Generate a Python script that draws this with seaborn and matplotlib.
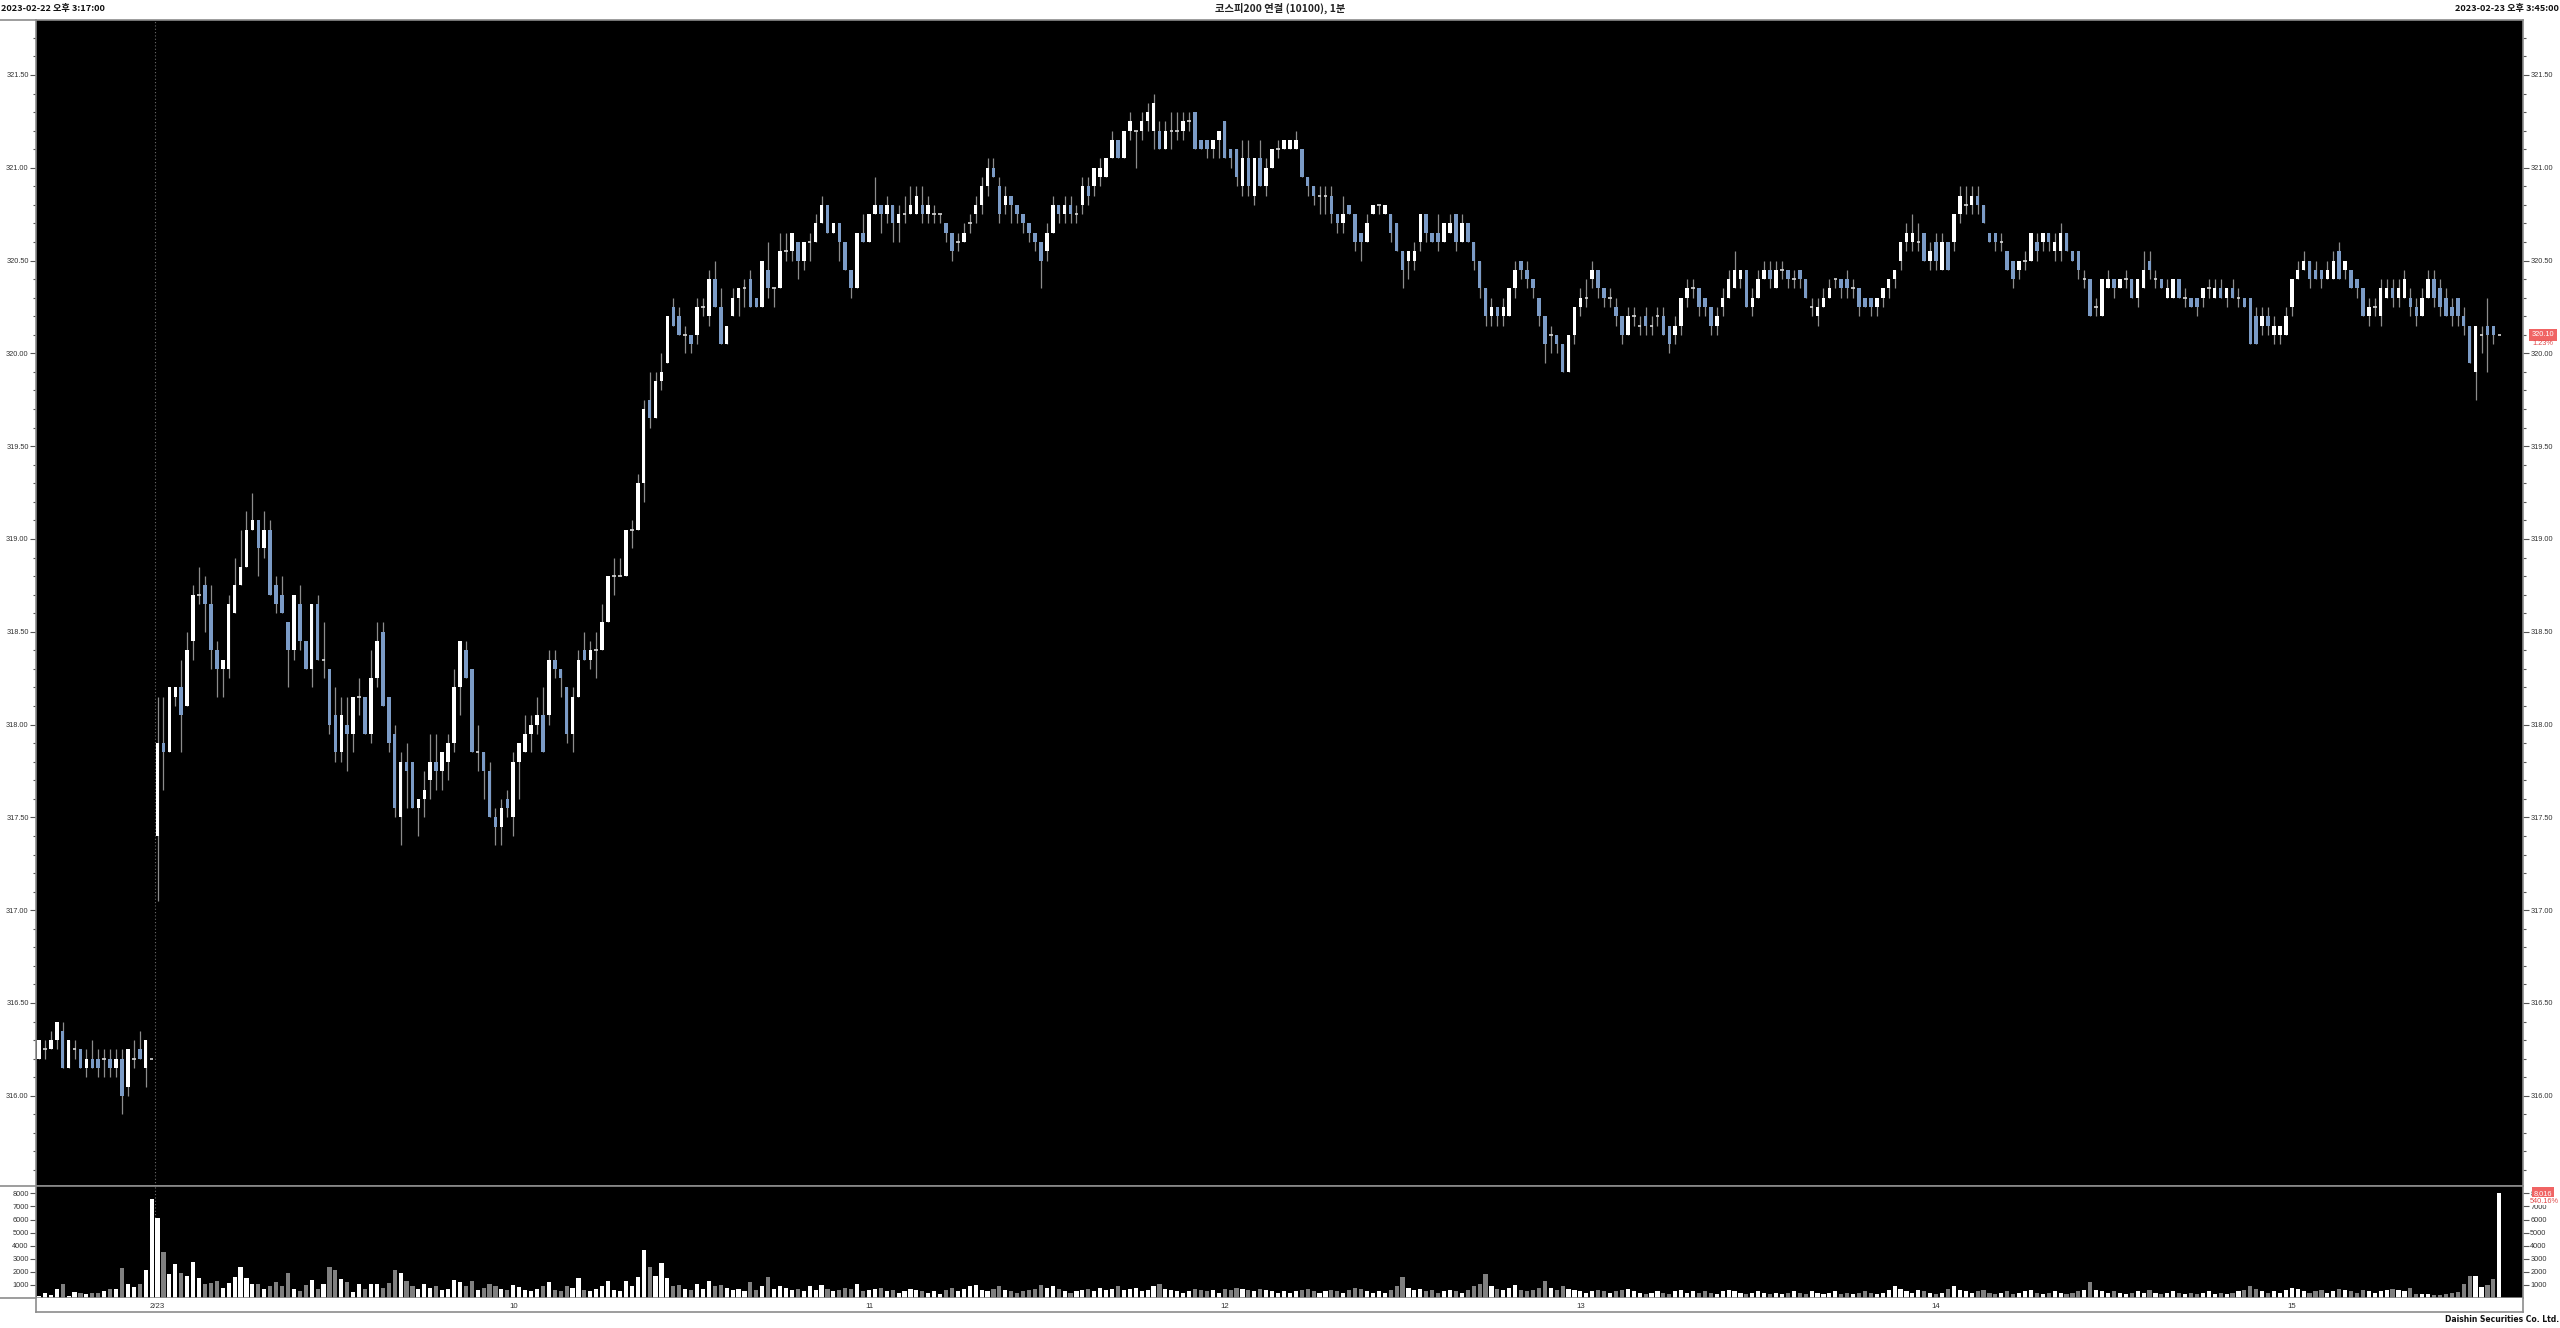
import numpy as np
import pandas as pd
import matplotlib
matplotlib.use("Agg")
import matplotlib.pyplot as plt
import matplotlib.transforms as mtransforms
from matplotlib.lines import Line2D
from matplotlib.ticker import MultipleLocator, FormatStrFormatter
import seaborn as sns

# KOSPI200 continuous futures (10100), 1-minute bars:
# tail of 2023-02-22 (20 bars) + session of 2023-02-23 (396 bars)
session_bars = [20, 396]
hour_labels = ["2/23", "10", "11", "12", "13", "14", "15"]

opens = [
    316.20, 316.25, 316.25, 316.30, 316.35, 316.15, 316.25, 316.25, 316.15, 316.20,
    316.20, 316.20, 316.20, 316.15, 316.20, 316.05, 316.20, 316.25, 316.15, 316.20,
    317.40, 317.90, 317.85, 318.15, 318.20, 318.10, 318.45, 318.70, 318.75, 318.65,
    318.40, 318.30, 318.30, 318.60, 318.75, 318.85, 319.05, 319.10, 318.95, 319.05,
    318.75, 318.70, 318.55, 318.40, 318.65, 318.45, 318.30, 318.65, 318.35, 318.30,
    318.05, 317.85, 318.00, 317.95, 318.15, 318.15, 317.95, 318.25, 318.50, 318.15,
    317.95, 317.50, 317.80, 317.80, 317.55, 317.60, 317.70, 317.80, 317.75, 317.80,
    317.90, 318.20, 318.40, 318.30, 317.85, 317.85, 317.75, 317.50, 317.45, 317.60,
    317.50, 317.80, 317.85, 317.95, 318.00, 318.05, 318.05, 318.35, 318.30, 318.20,
    317.95, 318.15, 318.40, 318.35, 318.40, 318.40, 318.55, 318.80, 318.80, 318.80,
    319.05, 319.05, 319.30, 319.75, 319.65, 319.85, 319.95, 320.25, 320.20, 320.10,
    320.10, 320.10, 320.25, 320.20, 320.40, 320.25, 320.05, 320.20, 320.30, 320.35,
    320.40, 320.30, 320.25, 320.45, 320.35, 320.35, 320.55, 320.55, 320.60, 320.50,
    320.60, 320.60, 320.70, 320.80, 320.65, 320.70, 320.60, 320.45, 320.35, 320.65,
    320.60, 320.75, 320.80, 320.75, 320.80, 320.70, 320.75, 320.75, 320.75, 320.80,
    320.75, 320.75, 320.75, 320.70, 320.65, 320.60, 320.60, 320.70, 320.75, 320.80,
    320.90, 321.00, 320.90, 320.80, 320.85, 320.80, 320.75, 320.70, 320.65, 320.60,
    320.55, 320.65, 320.80, 320.75, 320.80, 320.75, 320.80, 320.90, 320.90, 320.95,
    320.95, 321.05, 321.15, 321.05, 321.20, 321.20, 321.20, 321.25, 321.20, 321.20,
    321.10, 321.20, 321.20, 321.20, 321.25, 321.30, 321.15, 321.15, 321.10, 321.15,
    321.25, 321.10, 321.10, 320.90, 321.05, 320.85, 321.05, 320.90, 321.00, 321.10,
    321.10, 321.10, 321.10, 321.10, 320.95, 320.90, 320.85, 320.85, 320.85, 320.75,
    320.70, 320.80, 320.75, 320.65, 320.60, 320.75, 320.80, 320.75, 320.75, 320.70,
    320.55, 320.50, 320.50, 320.60, 320.75, 320.65, 320.65, 320.60, 320.65, 320.75,
    320.60, 320.70, 320.60, 320.50, 320.35, 320.20, 320.25, 320.20, 320.20, 320.35,
    320.50, 320.45, 320.40, 320.30, 320.20, 320.10, 320.10, 320.05, 319.90, 320.10,
    320.25, 320.30, 320.40, 320.45, 320.35, 320.30, 320.25, 320.20, 320.10, 320.20,
    320.15, 320.20, 320.15, 320.20, 320.20, 320.15, 320.10, 320.15, 320.30, 320.35,
    320.35, 320.30, 320.25, 320.15, 320.25, 320.30, 320.35, 320.40, 320.45, 320.25,
    320.30, 320.40, 320.45, 320.35, 320.45, 320.45, 320.40, 320.45, 320.40, 320.25,
    320.20, 320.25, 320.30, 320.40, 320.40, 320.40, 320.35, 320.35, 320.30, 320.30,
    320.25, 320.30, 320.35, 320.40, 320.50, 320.60, 320.60, 320.60, 320.65, 320.50,
    320.60, 320.45, 320.60, 320.60, 320.75, 320.80, 320.80, 320.85, 320.80, 320.65,
    320.65, 320.60, 320.55, 320.50, 320.45, 320.50, 320.50, 320.60, 320.60, 320.65,
    320.55, 320.55, 320.65, 320.55, 320.55, 320.40, 320.40, 320.25, 320.20, 320.35,
    320.40, 320.35, 320.40, 320.40, 320.30, 320.35, 320.50, 320.40, 320.40, 320.30,
    320.30, 320.40, 320.30, 320.30, 320.30, 320.30, 320.35, 320.30, 320.35, 320.30,
    320.35, 320.30, 320.30, 320.30, 320.20, 320.15, 320.20, 320.10, 320.10, 320.10,
    320.25, 320.40, 320.45, 320.50, 320.45, 320.45, 320.40, 320.40, 320.55, 320.45,
    320.45, 320.40, 320.35, 320.20, 320.25, 320.20, 320.30, 320.35, 320.30, 320.30,
    320.30, 320.25, 320.20, 320.30, 320.40, 320.35, 320.30, 320.25, 320.30, 320.20,
    320.15, 319.90, 320.10, 320.15, 320.15, 320.10,
]
highs = [
    316.30, 316.30, 316.35, 316.40, 316.40, 316.30, 316.30, 316.25, 316.25, 316.30,
    316.25, 316.25, 316.25, 316.25, 316.25, 316.25, 316.30, 316.35, 316.30, 316.20,
    318.15, 318.15, 318.20, 318.20, 318.35, 318.50, 318.75, 318.85, 318.80, 318.75,
    318.45, 318.35, 318.70, 318.90, 319.05, 319.15, 319.25, 319.10, 319.15, 319.10,
    318.80, 318.80, 318.55, 318.70, 318.75, 318.45, 318.65, 318.70, 318.55, 318.30,
    318.20, 318.15, 318.15, 318.15, 318.25, 318.15, 318.40, 318.55, 318.55, 318.15,
    318.00, 317.85, 317.90, 317.80, 317.60, 317.75, 317.95, 317.95, 317.85, 317.95,
    318.30, 318.45, 318.45, 318.30, 318.00, 317.85, 317.80, 317.55, 317.60, 317.65,
    317.85, 317.90, 318.05, 318.05, 318.15, 318.20, 318.40, 318.40, 318.30, 318.20,
    318.20, 318.40, 318.50, 318.45, 318.50, 318.65, 318.80, 318.90, 318.90, 319.05,
    319.10, 319.35, 319.75, 319.90, 319.90, 320.00, 320.20, 320.30, 320.25, 320.15,
    320.10, 320.30, 320.30, 320.45, 320.50, 320.35, 320.15, 320.35, 320.35, 320.40,
    320.45, 320.30, 320.50, 320.60, 320.35, 320.65, 320.65, 320.65, 320.60, 320.60,
    320.65, 320.75, 320.85, 320.80, 320.70, 320.70, 320.60, 320.45, 320.65, 320.75,
    320.75, 320.95, 320.80, 320.85, 320.80, 320.80, 320.85, 320.90, 320.90, 320.90,
    320.85, 320.80, 320.75, 320.70, 320.65, 320.65, 320.70, 320.75, 320.85, 320.95,
    321.05, 321.05, 320.95, 320.90, 320.85, 320.80, 320.75, 320.70, 320.65, 320.60,
    320.70, 320.85, 320.80, 320.85, 320.85, 320.80, 320.95, 320.95, 321.00, 321.05,
    321.05, 321.20, 321.15, 321.20, 321.30, 321.20, 321.30, 321.35, 321.40, 321.25,
    321.25, 321.30, 321.30, 321.30, 321.30, 321.30, 321.15, 321.15, 321.15, 321.20,
    321.25, 321.10, 321.10, 321.15, 321.15, 321.05, 321.15, 321.05, 321.10, 321.15,
    321.15, 321.15, 321.20, 321.10, 320.95, 320.90, 320.90, 320.90, 320.90, 320.75,
    320.85, 320.80, 320.75, 320.65, 320.75, 320.80, 320.80, 320.80, 320.75, 320.70,
    320.55, 320.55, 320.60, 320.75, 320.75, 320.65, 320.75, 320.70, 320.75, 320.75,
    320.75, 320.70, 320.60, 320.50, 320.35, 320.30, 320.25, 320.30, 320.35, 320.50,
    320.50, 320.50, 320.40, 320.30, 320.20, 320.15, 320.10, 320.05, 320.10, 320.25,
    320.35, 320.40, 320.50, 320.45, 320.35, 320.35, 320.30, 320.20, 320.25, 320.25,
    320.20, 320.25, 320.20, 320.25, 320.25, 320.15, 320.20, 320.30, 320.40, 320.40,
    320.35, 320.30, 320.25, 320.25, 320.35, 320.45, 320.55, 320.45, 320.45, 320.35,
    320.45, 320.50, 320.50, 320.50, 320.50, 320.45, 320.45, 320.45, 320.40, 320.30,
    320.30, 320.35, 320.40, 320.40, 320.40, 320.45, 320.40, 320.35, 320.30, 320.30,
    320.30, 320.35, 320.40, 320.45, 320.60, 320.70, 320.75, 320.70, 320.65, 320.60,
    320.65, 320.65, 320.60, 320.75, 320.90, 320.90, 320.90, 320.90, 320.80, 320.65,
    320.65, 320.65, 320.55, 320.50, 320.50, 320.55, 320.65, 320.65, 320.65, 320.65,
    320.65, 320.70, 320.65, 320.55, 320.55, 320.45, 320.40, 320.30, 320.40, 320.45,
    320.40, 320.40, 320.45, 320.40, 320.40, 320.55, 320.55, 320.45, 320.40, 320.40,
    320.40, 320.40, 320.35, 320.30, 320.30, 320.35, 320.40, 320.40, 320.40, 320.35,
    320.40, 320.35, 320.30, 320.30, 320.25, 320.25, 320.25, 320.20, 320.15, 320.25,
    320.40, 320.50, 320.55, 320.50, 320.50, 320.45, 320.50, 320.55, 320.60, 320.50,
    320.45, 320.40, 320.35, 320.30, 320.30, 320.40, 320.40, 320.40, 320.40, 320.45,
    320.35, 320.30, 320.35, 320.45, 320.45, 320.40, 320.35, 320.30, 320.30, 320.25,
    320.15, 320.15, 320.15, 320.30, 320.15, 320.10,
]
lows = [
    316.20, 316.20, 316.25, 316.25, 316.15, 316.15, 316.20, 316.15, 316.10, 316.15,
    316.10, 316.10, 316.10, 316.10, 315.90, 316.00, 316.15, 316.20, 316.05, 316.20,
    317.05, 317.65, 317.85, 318.10, 317.85, 318.10, 318.35, 318.65, 318.50, 318.30,
    318.15, 318.15, 318.25, 318.60, 318.75, 318.85, 319.05, 318.80, 318.90, 318.70,
    318.60, 318.60, 318.20, 318.35, 318.40, 318.30, 318.20, 318.35, 318.25, 317.95,
    317.80, 317.80, 317.75, 317.85, 318.05, 317.95, 317.90, 318.20, 318.10, 317.85,
    317.50, 317.35, 317.55, 317.55, 317.40, 317.50, 317.60, 317.65, 317.65, 317.70,
    317.85, 318.05, 318.25, 317.85, 317.75, 317.60, 317.50, 317.35, 317.35, 317.50,
    317.40, 317.60, 317.85, 317.85, 317.95, 317.85, 318.00, 318.25, 318.15, 317.90,
    317.85, 318.15, 318.35, 318.30, 318.25, 318.40, 318.55, 318.70, 318.80, 318.80,
    318.95, 319.05, 319.20, 319.60, 319.65, 319.80, 319.95, 320.15, 320.10, 320.00,
    320.00, 320.05, 320.20, 320.15, 320.25, 320.05, 320.05, 320.20, 320.20, 320.25,
    320.25, 320.25, 320.25, 320.30, 320.25, 320.35, 320.50, 320.50, 320.40, 320.45,
    320.50, 320.60, 320.70, 320.65, 320.65, 320.50, 320.45, 320.30, 320.35, 320.60,
    320.60, 320.75, 320.65, 320.70, 320.60, 320.60, 320.70, 320.75, 320.75, 320.70,
    320.70, 320.70, 320.70, 320.60, 320.50, 320.55, 320.60, 320.65, 320.70, 320.75,
    320.85, 320.95, 320.70, 320.75, 320.70, 320.70, 320.65, 320.60, 320.55, 320.35,
    320.50, 320.65, 320.70, 320.70, 320.70, 320.70, 320.75, 320.80, 320.85, 320.90,
    320.95, 321.05, 321.05, 321.05, 321.15, 321.00, 321.15, 321.20, 321.10, 321.10,
    321.10, 321.10, 321.15, 321.15, 321.20, 321.10, 321.10, 321.05, 321.05, 321.05,
    321.05, 321.00, 320.90, 320.85, 320.85, 320.80, 320.90, 320.85, 321.00, 321.05,
    321.10, 321.10, 321.10, 320.95, 320.85, 320.80, 320.75, 320.75, 320.70, 320.65,
    320.65, 320.75, 320.55, 320.50, 320.60, 320.75, 320.75, 320.75, 320.60, 320.55,
    320.35, 320.40, 320.45, 320.55, 320.60, 320.60, 320.55, 320.60, 320.65, 320.55,
    320.60, 320.60, 320.45, 320.30, 320.15, 320.15, 320.15, 320.15, 320.20, 320.30,
    320.40, 320.35, 320.30, 320.15, 319.95, 320.00, 320.00, 319.90, 319.90, 320.05,
    320.20, 320.25, 320.35, 320.30, 320.25, 320.25, 320.15, 320.05, 320.10, 320.15,
    320.10, 320.10, 320.10, 320.15, 320.10, 320.00, 320.05, 320.10, 320.25, 320.30,
    320.20, 320.20, 320.10, 320.10, 320.20, 320.30, 320.35, 320.35, 320.25, 320.20,
    320.30, 320.40, 320.35, 320.35, 320.40, 320.35, 320.35, 320.35, 320.30, 320.20,
    320.15, 320.25, 320.30, 320.35, 320.30, 320.30, 320.30, 320.20, 320.25, 320.20,
    320.20, 320.25, 320.30, 320.35, 320.45, 320.55, 320.55, 320.55, 320.50, 320.45,
    320.45, 320.45, 320.45, 320.55, 320.70, 320.75, 320.75, 320.75, 320.70, 320.60,
    320.55, 320.55, 320.45, 320.35, 320.40, 320.45, 320.50, 320.50, 320.55, 320.55,
    320.50, 320.50, 320.55, 320.50, 320.40, 320.35, 320.20, 320.20, 320.20, 320.35,
    320.30, 320.35, 320.35, 320.30, 320.25, 320.35, 320.40, 320.35, 320.35, 320.30,
    320.30, 320.30, 320.25, 320.25, 320.20, 320.25, 320.30, 320.30, 320.30, 320.25,
    320.30, 320.25, 320.25, 320.05, 320.05, 320.10, 320.10, 320.05, 320.05, 320.10,
    320.20, 320.40, 320.45, 320.35, 320.40, 320.35, 320.40, 320.40, 320.40, 320.40,
    320.35, 320.30, 320.20, 320.15, 320.20, 320.15, 320.30, 320.25, 320.25, 320.30,
    320.20, 320.15, 320.20, 320.30, 320.25, 320.20, 320.20, 320.15, 320.15, 320.10,
    319.95, 319.75, 320.00, 319.90, 320.05, 320.10,
]
closes = [
    316.30, 316.25, 316.30, 316.40, 316.15, 316.30, 316.25, 316.15, 316.20, 316.15,
    316.15, 316.20, 316.15, 316.20, 316.00, 316.25, 316.20, 316.20, 316.30, 316.20,
    317.90, 317.85, 318.20, 318.20, 318.05, 318.40, 318.70, 318.70, 318.65, 318.40,
    318.30, 318.35, 318.65, 318.75, 318.85, 319.05, 319.10, 318.95, 319.05, 318.70,
    318.65, 318.60, 318.40, 318.70, 318.45, 318.30, 318.65, 318.35, 318.35, 318.00,
    317.85, 318.05, 317.95, 318.15, 318.15, 317.95, 318.25, 318.45, 318.10, 317.90,
    317.55, 317.80, 317.75, 317.55, 317.60, 317.65, 317.80, 317.75, 317.85, 317.90,
    318.20, 318.45, 318.25, 317.85, 317.85, 317.75, 317.50, 317.45, 317.55, 317.55,
    317.80, 317.90, 317.95, 318.00, 318.05, 317.85, 318.35, 318.30, 318.25, 317.95,
    318.15, 318.35, 318.35, 318.40, 318.40, 318.55, 318.80, 318.80, 318.80, 319.05,
    319.05, 319.30, 319.70, 319.65, 319.85, 319.90, 320.20, 320.15, 320.10, 320.10,
    320.05, 320.25, 320.25, 320.40, 320.25, 320.05, 320.15, 320.30, 320.35, 320.35,
    320.25, 320.25, 320.50, 320.35, 320.35, 320.55, 320.55, 320.65, 320.50, 320.60,
    320.60, 320.70, 320.80, 320.65, 320.70, 320.60, 320.45, 320.35, 320.65, 320.60,
    320.75, 320.80, 320.75, 320.80, 320.70, 320.75, 320.75, 320.80, 320.85, 320.75,
    320.80, 320.75, 320.75, 320.65, 320.55, 320.60, 320.65, 320.70, 320.80, 320.90,
    321.00, 320.95, 320.75, 320.85, 320.80, 320.75, 320.70, 320.65, 320.60, 320.50,
    320.65, 320.80, 320.75, 320.80, 320.75, 320.75, 320.90, 320.85, 321.00, 321.00,
    321.05, 321.15, 321.05, 321.20, 321.25, 321.20, 321.25, 321.30, 321.35, 321.10,
    321.20, 321.20, 321.20, 321.25, 321.25, 321.10, 321.10, 321.10, 321.15, 321.20,
    321.05, 321.05, 320.95, 321.05, 320.90, 321.05, 320.90, 321.00, 321.10, 321.10,
    321.15, 321.15, 321.15, 320.95, 320.90, 320.85, 320.85, 320.85, 320.75, 320.70,
    320.75, 320.75, 320.60, 320.60, 320.70, 320.80, 320.80, 320.80, 320.65, 320.55,
    320.45, 320.55, 320.55, 320.75, 320.65, 320.60, 320.60, 320.70, 320.70, 320.60,
    320.70, 320.60, 320.50, 320.35, 320.20, 320.25, 320.20, 320.25, 320.35, 320.45,
    320.45, 320.40, 320.35, 320.20, 320.05, 320.10, 320.05, 319.90, 320.10, 320.25,
    320.30, 320.30, 320.45, 320.35, 320.30, 320.30, 320.20, 320.10, 320.20, 320.20,
    320.15, 320.15, 320.15, 320.20, 320.10, 320.05, 320.15, 320.30, 320.35, 320.35,
    320.25, 320.25, 320.15, 320.20, 320.30, 320.40, 320.45, 320.45, 320.25, 320.30,
    320.40, 320.45, 320.40, 320.45, 320.45, 320.40, 320.40, 320.40, 320.30, 320.25,
    320.25, 320.30, 320.35, 320.40, 320.35, 320.35, 320.35, 320.25, 320.25, 320.25,
    320.30, 320.35, 320.40, 320.45, 320.60, 320.65, 320.65, 320.60, 320.50, 320.55,
    320.50, 320.60, 320.45, 320.75, 320.85, 320.80, 320.85, 320.80, 320.70, 320.60,
    320.60, 320.60, 320.45, 320.40, 320.50, 320.50, 320.65, 320.55, 320.65, 320.60,
    320.60, 320.65, 320.55, 320.50, 320.45, 320.40, 320.20, 320.25, 320.40, 320.40,
    320.35, 320.40, 320.40, 320.30, 320.40, 320.45, 320.45, 320.40, 320.35, 320.35,
    320.40, 320.30, 320.30, 320.25, 320.25, 320.35, 320.35, 320.35, 320.30, 320.35,
    320.30, 320.30, 320.25, 320.05, 320.05, 320.20, 320.15, 320.15, 320.15, 320.20,
    320.40, 320.45, 320.50, 320.40, 320.40, 320.40, 320.45, 320.50, 320.40, 320.50,
    320.35, 320.35, 320.20, 320.25, 320.25, 320.35, 320.35, 320.30, 320.35, 320.40,
    320.25, 320.20, 320.30, 320.40, 320.30, 320.25, 320.20, 320.20, 320.20, 320.15,
    319.95, 320.15, 320.10, 320.10, 320.10, 320.10,
]
volumes = [
    150, 360, 230, 690, 1050, 150, 440, 360, 310, 360, 360, 570, 670, 720, 2290, 1080, 850, 1080, 2160, 7600,
    6140, 3500, 1800, 2570, 1900, 1700, 2780, 1540, 1080, 1130, 1290, 770, 1130, 1590, 2360, 1520, 1050, 1050, 720, 930,
    1230, 880, 1950, 670, 570, 1030, 1390, 670, 1050, 2360, 2130, 1440, 1230, 490, 1080, 670, 1050, 1080, 770, 1130, 2110, 1900,
    1300, 900, 700, 1100, 800, 950, 600, 700, 1400, 1200, 900, 1300, 600, 800, 1100, 900, 700, 600,
    1000, 850, 600, 500, 700, 900, 1200, 600, 500, 900, 800, 1500, 600, 500, 700, 900, 1300, 600, 500, 1300, 900, 1600,
    3700, 2400, 1700, 2700, 1500, 900, 1000, 700, 600, 1100, 700, 1300, 900, 1000, 800, 600, 700, 500, 1200, 600, 900, 1600, 700, 900,
    800, 600, 700, 500, 900, 600, 1000, 700, 500, 600, 800, 700, 1100, 500, 600, 700, 800, 500, 600, 400,
    500, 700, 600, 500, 400, 500, 300, 600, 800, 500, 700, 900, 1000, 600, 500,
    700, 900, 600, 500, 400, 500, 600, 700, 1000, 800, 900, 700, 500, 400, 500, 600, 700, 500, 800, 600,
    700, 900, 600, 700, 800, 500, 600, 900, 1100, 700, 600, 500, 400, 500, 700, 600, 500, 600, 400, 700,
    600, 800, 700, 600, 500, 700, 600, 500, 400, 500, 400, 500, 600, 700, 500, 400, 500, 600, 500, 400,
    600, 800, 700, 500, 400, 500, 400, 600, 900, 1600, 800, 600, 700, 500, 600, 400, 500, 600, 500, 400,
    600, 900, 1100, 1800, 900, 700, 600, 800, 1000, 600, 500, 600, 800, 1300, 800, 600, 900, 700, 600, 500,
    400, 500, 600, 500, 400, 500, 600, 700, 500, 400, 300, 400, 500, 400, 300, 500, 600, 400, 500, 400,
    500, 400, 300, 500, 600, 500, 400, 300, 400, 500, 400, 300, 400, 300, 400, 500, 400, 300, 500, 400,
    300, 400, 500, 300, 400, 300, 400, 500, 400, 300, 400, 600, 900, 700, 500, 400, 600, 500, 400, 300,
    400, 700, 900, 600, 500, 400, 500, 600, 400, 300, 400, 500, 300, 400, 500, 600, 400, 300, 400, 500,
    400, 300, 400, 500, 600, 1200, 600, 500, 400, 500, 400, 300, 400, 500, 400, 600, 400, 300, 400, 500,
    400, 300, 400, 300, 400, 500, 300, 400, 300, 400, 500, 600, 900, 700, 500, 400, 500, 400, 600, 800,
    700, 500, 400, 500, 600, 400, 500, 700, 600, 500, 400, 600, 500, 400, 500, 600, 700, 600,
    540, 800, 310, 310, 310, 230, 230, 280, 360, 490, 1080, 1690, 1670, 820, 1000, 1484, 8016,
]

n_bars = sum(session_bars)
assert all(len(a) == n_bars for a in (opens, highs, lows, closes, volumes)), \
    [len(a) for a in (opens, highs, lows, closes, volumes)]

df = pd.DataFrame({"open": opens, "high": highs, "low": lows, "close": closes, "volume": volumes})
df["bar"] = np.arange(n_bars)
df["side"] = np.where(df["close"] >= df["open"], "up", "down")

sns.set_theme(style="ticks", rc={"axes.facecolor": "black", "figure.facecolor": "white"})
plt.rcParams["font.family"] = ["Liberation Sans", "Noto Sans CJK KR", "DejaVu Sans"]

UP = "#ffffff"
DOWN = "#7b9bc6"
WICK = "#8c8c8c"
FRAME = "#8c8c8c"
TXT = "#333333"
RED = "#f06464"

W, H = 2560, 1328
fig = plt.figure(figsize=(W / 100, H / 100), dpi=100)


def box(x0, y0, x1, y1):
    return [x0 / W, 1 - y1 / H, (x1 - x0) / W, (y1 - y0) / H]


ax = fig.add_axes(box(36, 20, 2523, 1186))
axv = fig.add_axes(box(36, 1186, 2523, 1298))
axd = fig.add_axes(box(36, 1298, 2523, 1312))

xlim = (-0.5, n_bars + 3)

# --- candles
lo_body = np.minimum(df["open"], df["close"])
hi_body = np.maximum(df["open"], df["close"])
ax.vlines(df["bar"], np.minimum(df["low"], lo_body), np.maximum(df["high"], hi_body),
          color=WICK, lw=0.9, zorder=1)
up = df["close"] > df["open"]
dn = df["close"] < df["open"]
flat = df["close"] == df["open"]
ax.bar(df["bar"][up], (hi_body - lo_body)[up], bottom=lo_body[up], width=0.6,
       color=UP, linewidth=0, zorder=2)
ax.bar(df["bar"][dn], (hi_body - lo_body)[dn], bottom=lo_body[dn], width=0.6,
       color=DOWN, linewidth=0, zorder=2)
ax.hlines(df["close"][flat], df["bar"][flat] - 0.3, df["bar"][flat] + 0.3,
          color="#d9d9d9", lw=1.2, zorder=2)

ax.set_xlim(*xlim)
ax.set_ylim(315.514, 321.796)
ax.yaxis.set_major_locator(MultipleLocator(0.5))
ax.yaxis.set_minor_locator(MultipleLocator(0.1))
ax.yaxis.set_major_formatter(FormatStrFormatter("%.2f"))

# --- volume
sns.barplot(data=df, x="bar", y="volume", hue="side", palette={"up": UP, "down": "#808080"},
            native_scale=True, dodge=False, width=0.7, saturation=1, errorbar=None,
            legend=False, linewidth=0, ax=axv)
axv.set_xlim(*xlim)
axv.set_ylim(0, 8565)
axv.set_yticks(range(1000, 9000, 1000))
axv.set_xlabel("")
axv.set_ylabel("")

sep = session_bars[0] - 0.5
for a in (ax, axv):
    a.axvline(sep, color="#6a6a6a", ls=(0, (1, 2)), lw=0.8, zorder=0)
    a.set_facecolor("black")
    a.tick_params(axis="x", bottom=False, labelbottom=False, top=False)
    a.tick_params(axis="y", which="major", left=True, right=True, labelleft=True, labelright=True,
                  direction="out", length=4, width=0.8, color="#555555", labelsize=5.3,
                  labelcolor=TXT, pad=1.2)
    a.tick_params(axis="y", which="minor", left=True, right=True, direction="out",
                  length=2.5, width=0.8, color="#555555")
    for s in a.spines.values():
        s.set_color(FRAME)
        s.set_linewidth(1.2)
axv.tick_params(axis="y", which="minor", left=False, right=False)

# --- time strip
axd.set_facecolor("white")
axd.set_xlim(*xlim)
axd.set_ylim(0, 1)
axd.set_xticks([])
axd.set_yticks([])
axd.spines["top"].set_visible(False)
for k in ("left", "right", "bottom"):
    axd.spines[k].set_color(FRAME)
    axd.spines[k].set_linewidth(1.2)
for k, lab in enumerate(hour_labels):
    axd.text(session_bars[0] + 60 * k, 0.42, lab, ha="center", va="center",
             fontsize=5.6, color=TXT)

# --- frame extensions on the left
for ypx in (20, 1186, 1298):
    fig.add_artist(Line2D([0, 36 / W], [1 - ypx / H] * 2, color=FRAME, lw=1.2))

# --- last value tags on the right (drawn over the right-hand tick labels)
last = closes[-1]
prev_close = closes[session_bars[0] - 1]
tr = mtransforms.blended_transform_factory(ax.transAxes, ax.transData)
ax.annotate(f"{last:.2f}", xy=(1, last), xycoords=tr, xytext=(20, 0), textcoords="offset pixels",
            ha="center", va="center", fontsize=5.3, color="white", annotation_clip=False,
            bbox=dict(boxstyle="square,pad=0.3", fc=RED, ec="none"), zorder=5)
ax.annotate(f"{(last / prev_close - 1) * 100:.2f}%", xy=(1, last), xycoords=tr, xytext=(20, -9),
            textcoords="offset pixels", ha="center", va="center", fontsize=5.3, color="#e04848",
            annotation_clip=False, zorder=5)
trv = mtransforms.blended_transform_factory(axv.transAxes, axv.transData)
axv.annotate(f"{volumes[-1]:,}", xy=(1, volumes[-1]), xycoords=trv, xytext=(20, 0),
             textcoords="offset pixels", ha="center", va="center", fontsize=5.3, color="white",
             annotation_clip=False, bbox=dict(boxstyle="square,pad=0.3", fc=RED, ec="none"), zorder=5)
axv.annotate(f"{volumes[-1] / volumes[-2] * 100:.2f}%", xy=(1, volumes[-1]), xycoords=trv,
             xytext=(21, -8), textcoords="offset pixels", ha="center", va="center", fontsize=5.3,
             color="#e04848", annotation_clip=False,
             bbox=dict(boxstyle="square,pad=0.05", fc="white", ec="none"), zorder=5)

# --- header / footer
kr = ["Noto Sans CJK KR", "DejaVu Sans"]
fig.text(1 / W, 1 - 8 / H, "2023-02-22 오후 3:17:00", ha="left", va="center",
         fontsize=6.6, fontweight="bold", family=kr, color="#111111")
fig.text(1280 / W, 1 - 8 / H, "코스피200 연결 (10100), 1분", ha="center", va="center",
         fontsize=7.4, fontweight="bold", family=kr, color="#222222")
fig.text(2559 / W, 1 - 8 / H, "2023-02-23 오후 3:45:00", ha="right", va="center",
         fontsize=6.6, fontweight="bold", family=kr, color="#111111")
fig.text(2559 / W, 1 - 1320 / H, "Daishin Securities Co. Ltd.", ha="right", va="center",
         fontsize=5.5, fontweight="bold", family=["DejaVu Sans"], color="#111111")

fig.savefig("out.png", dpi=100, facecolor="white")
